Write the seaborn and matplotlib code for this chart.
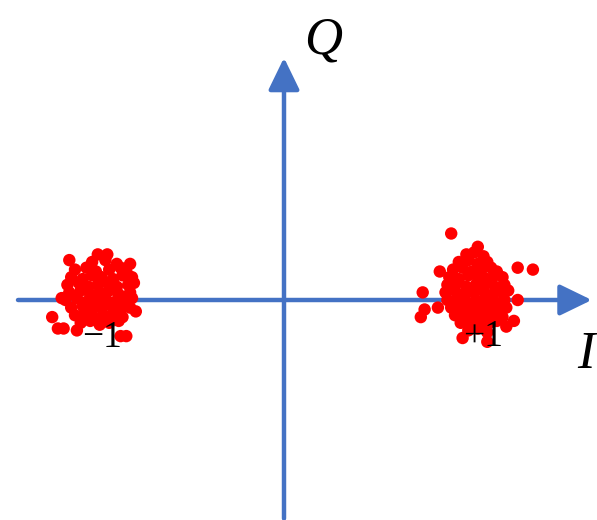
import matplotlib
matplotlib.use("Agg")
import matplotlib.pyplot as plt
import seaborn as sns
import pandas as pd

# Received BPSK symbols around -1
left_i = [-0.98, -0.93, -1.13, -0.81,
          -1.01, -0.94, -0.88,
          -1.10, -1.04, -0.99, -0.92, -0.86, -0.83,
          -1.12, -1.06, -1.01, -0.96, -0.90, -0.85, -0.80,
          -1.14, -1.08, -1.03, -0.98, -0.93, -0.88, -0.82, -0.79,
          -1.13, -1.07, -1.02, -0.97, -0.92, -0.87, -0.81,
          -1.15, -1.09, -1.04, -0.99, -0.94, -0.89, -0.84, -0.80,
          -1.12, -1.06, -1.01, -0.96, -0.91, -0.86, -0.81,
          -1.10, -1.05, -1.00, -0.95, -0.90, -0.85,
          -1.07, -1.02, -0.97, -0.92, -0.87,
          -1.22, -1.19, -1.16, -1.09, -0.86, -0.83, -1.17, -0.78]
left_q = [0.24, 0.24, 0.21, 0.19,
          0.20, 0.21, 0.19,
          0.16, 0.17, 0.15, 0.16, 0.17, 0.15,
          0.12, 0.11, 0.13, 0.12, 0.11, 0.13, 0.12,
          0.08, 0.09, 0.07, 0.08, 0.09, 0.07, 0.08, 0.09,
          0.04, 0.05, 0.03, 0.04, 0.05, 0.03, 0.04,
          0.00, 0.01, -0.01, 0.00, 0.01, -0.01, 0.00, 0.01,
          -0.04, -0.03, -0.05, -0.04, -0.03, -0.05, -0.04,
          -0.08, -0.07, -0.09, -0.08, -0.07, -0.09,
          -0.12, -0.11, -0.13, -0.12, -0.11,
          -0.09, -0.15, -0.15, -0.16, -0.19, -0.19, 0.01, -0.06]

# Received BPSK symbols around +1
right_i = [0.96, 1.00, 1.05,
           0.92, 0.97, 1.02, 1.07,
           0.89, 0.94, 0.99, 1.04, 1.09, 1.12,
           0.87, 0.92, 0.97, 1.02, 1.07, 1.11, 1.15,
           0.86, 0.91, 0.96, 1.01, 1.06, 1.11, 1.16,
           0.85, 0.90, 0.95, 1.00, 1.05, 1.10, 1.15, 1.18,
           0.86, 0.91, 0.96, 1.01, 1.06, 1.11, 1.16,
           0.88, 0.93, 0.98, 1.03, 1.08, 1.13, 1.17,
           0.90, 0.95, 1.00, 1.05, 1.10, 1.15,
           0.93, 0.98, 1.03, 1.08, 1.12,
           0.97, 1.02, 1.07,
           0.88, 1.02, 1.23, 1.31, 0.82, 0.73, 0.74, 0.72, 0.81,
           1.21, 1.23, 1.07, 0.94, 1.17]
right_q = [0.24, 0.25, 0.23,
           0.20, 0.21, 0.19, 0.20,
           0.16, 0.17, 0.15, 0.16, 0.17, 0.15,
           0.12, 0.11, 0.13, 0.12, 0.11, 0.13, 0.12,
           0.08, 0.09, 0.07, 0.08, 0.09, 0.07, 0.08,
           0.04, 0.05, 0.03, 0.04, 0.05, 0.03, 0.04, 0.05,
           0.00, 0.01, -0.01, 0.00, 0.01, -0.01, 0.00,
           -0.04, -0.03, -0.05, -0.04, -0.03, -0.05, -0.04,
           -0.08, -0.07, -0.09, -0.08, -0.07, -0.09,
           -0.12, -0.11, -0.13, -0.12, -0.11,
           -0.16, -0.15, -0.17,
           0.35, 0.28, 0.17, 0.16, 0.15, 0.04, -0.05, -0.09, -0.04,
           -0.11, 0.00, -0.22, -0.20, -0.14]

symbol_labels = ["\u22121", "+1"]
symbol_label_pos = [(-0.96, -0.20), (1.047, -0.195)]

df = pd.DataFrame({"I": left_i + right_i, "Q": left_q + right_q})

sns.set_theme(style="white")
fig = plt.figure(figsize=(5.97, 5.20), dpi=100)
ax = fig.add_axes([0, 0, 1, 1])
ax.set_xlim(-284 / 190, 313 / 190)
ax.set_ylim(-220 / 190, 300 / 190)
ax.axis("off")

axis_color = "#4472C4"
arrow = dict(arrowstyle="-|>,head_length=0.7,head_width=0.34", lw=3.2,
             color=axis_color, mutation_scale=28, shrinkA=0, shrinkB=0)
ax.annotate("", xy=(1.62, 0), xytext=(-1.40, 0), arrowprops=arrow, zorder=1)
ax.annotate("", xy=(0, 1.275), xytext=(0, -1.15), arrowprops=arrow, zorder=1)

sns.scatterplot(data=df, x="I", y="Q", ax=ax, color="#FF0000", s=80,
                edgecolor="none", linewidth=0, zorder=3, legend=False)

serif = ["Liberation Serif", "DejaVu Serif"]
for lab, (x, y) in zip(symbol_labels, symbol_label_pos):
    ax.text(x, y, lab, ha="center", va="center", fontsize=27,
            family=serif, color="black", zorder=4)

ax.text(0.205, 1.365, "Q", ha="center", va="center", fontsize=38,
        family=serif, style="italic", color="black")
ax.text(1.635, -0.29, "I", ha="right", va="center", fontsize=38,
        family=serif, style="italic", color="black")

fig.savefig("out.png", dpi=100)
